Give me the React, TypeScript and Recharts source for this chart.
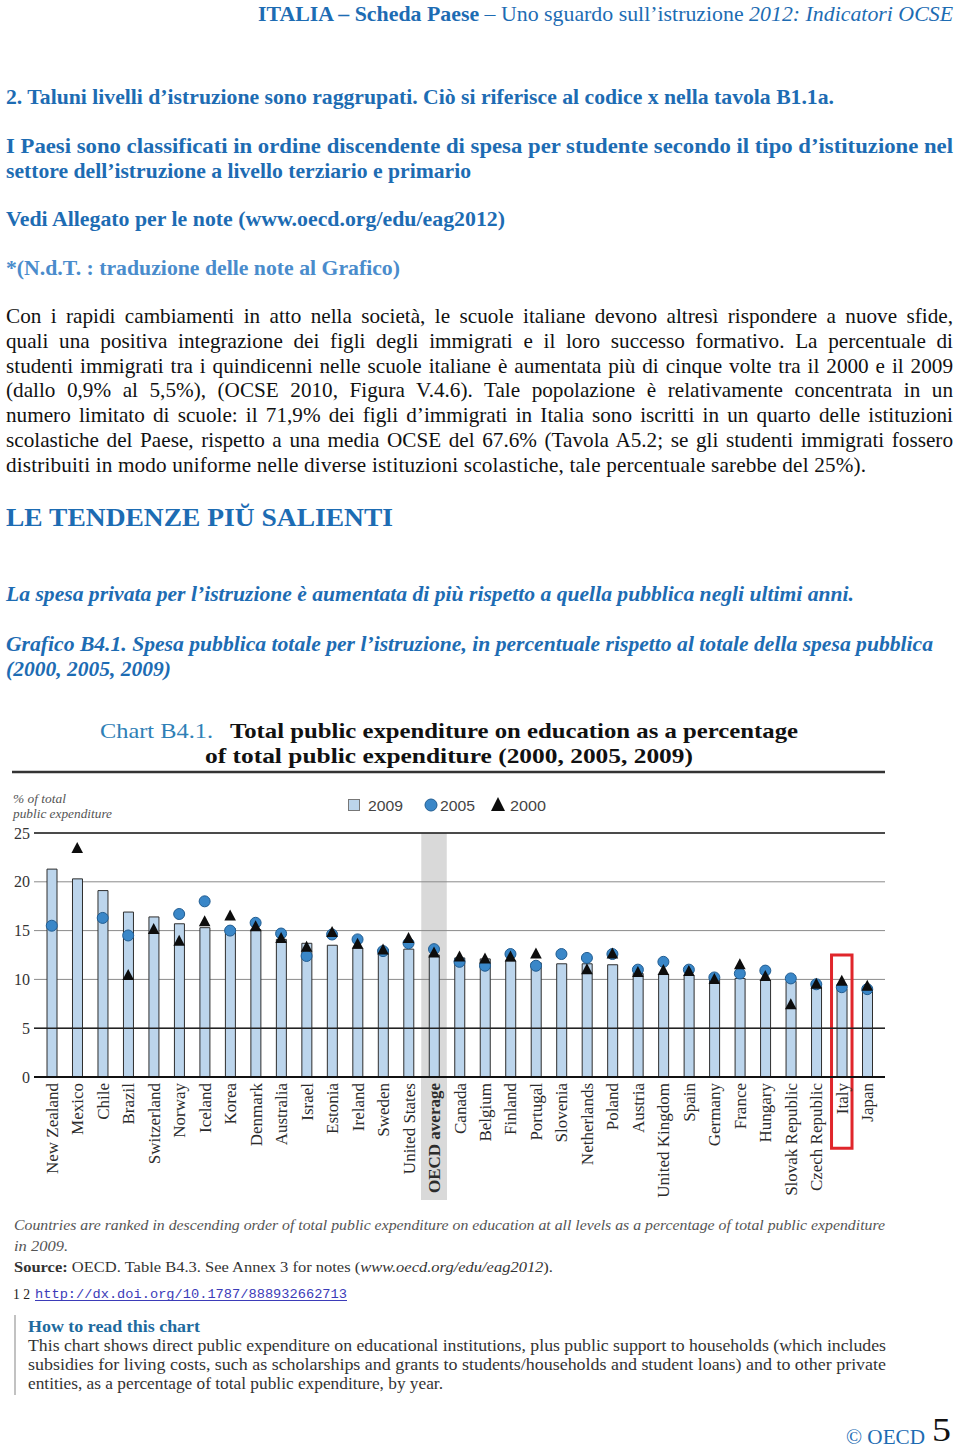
import React from 'react';
import {
  ComposedChart,
  Bar,
  Scatter,
  XAxis,
  YAxis,
  CartesianGrid,
  ReferenceLine,
  ReferenceArea,
} from 'recharts';

// ---------- data ----------
const countries = [
  'New Zealand', 'Mexico', 'Chile', 'Brazil', 'Switzerland', 'Norway', 'Iceland', 'Korea',
  'Denmark', 'Australia', 'Israel', 'Estonia', 'Ireland', 'Sweden', 'United States',
  'OECD average', 'Canada', 'Belgium', 'Finland', 'Portugal', 'Slovenia', 'Netherlands',
  'Poland', 'Austria', 'United Kingdom', 'Spain', 'Germany', 'France', 'Hungary',
  'Slovak Republic', 'Czech Republic', 'Italy', 'Japan',
];
const exp2009 = [
  21.3, 20.3, 19.1, 16.9, 16.4, 15.7, 15.3, 15.2,
  15.1, 14.1, 13.7, 13.5, 13.2, 13.1, 13.1,
  12.5, 12.2, 12.1, 11.9, 11.7, 11.6, 11.6,
  11.5, 10.6, 10.5, 10.4, 10.1, 10.1, 9.9,
  9.8, 9.3, 9.0, 8.9,
];
const exp2005: (number | null)[] = [
  15.5, null, 16.3, 14.5, null, 16.7, 18.0, 15.0,
  15.8, 14.7, 12.4, 14.6, 14.1, 12.9, 13.7,
  13.1, 11.8, 11.4, 12.6, 11.4, 12.6, 12.2,
  12.6, 11.0, 11.8, 11.0, 10.2, 10.6, 10.9,
  10.1, 9.5, 9.2, 9.0,
];
const exp2000: (number | null)[] = [
  null, 23.4, null, 10.4, 15.1, 13.9, 15.9, 16.5,
  15.4, 14.2, 13.3, 14.8, 13.6, 13.0, 14.2,
  12.7, 12.3, 12.1, 12.3, 12.6, null, 11.0,
  12.6, 10.7, 10.9, 10.8, 10.0, 11.5, 10.3,
  7.4, 9.5, 9.8, 9.3,
];
const yTicks = [0, 5, 10, 15, 20, 25];
const darkGridValues = [25, 5];
const legendLabels = ['2009', '2005', '2000'];
const averageCategory = 'OECD average';
const highlightedCountry = 'Italy';

const data = countries.map((c, i) => ({
  country: c,
  v2009: exp2009[i],
  v2005: exp2005[i],
  v2000: exp2000[i],
}));

// ---------- styles ----------
const SERIF = "'Liberation Serif', 'Times New Roman', serif";
const SANS = "'Liberation Sans', Arial, sans-serif";
const MONO = "'Liberation Mono', 'DejaVu Sans Mono', monospace";
const BLUE = '#1d6cb3';
const LIGHT_BLUE = '#4a8ccc';
const BAR_FILL = '#bcd5ec';
const DOT_FILL = '#3a87c8';

const CircleShape = (props: any) => {
  const { cx, cy, payload } = props;
  if (!payload || payload.v2005 == null || !isFinite(cy)) return <g />;
  return <circle cx={cx} cy={cy} r={5.5} fill={DOT_FILL} stroke="#215d92" strokeWidth={1} />;
};

const TriangleShape = (props: any) => {
  const { cx, cy, payload } = props;
  if (!payload || payload.v2000 == null || !isFinite(cy)) return <g />;
  const d = `M${cx},${cy - 6.5} L${cx + 5.8},${cy + 4.5} L${cx - 5.8},${cy + 4.5} Z`;
  return <path d={d} fill="#0d0d0d" />;
};

const XTick = (props: any) => {
  const { x, y, payload } = props;
  const label = payload.value as string;
  const isAvg = label === averageCategory;
  return (
    <g transform={`translate(${x},${y})`}>
      {isAvg && <rect x={-13} y={1} width={26} height={122} fill="#d9d9d9" />}
      <text
        transform="rotate(-90)"
        x={-6}
        y={6}
        textAnchor="end"
        fontFamily={SERIF}
        fontSize={17}
        fontWeight={isAvg ? 'bold' : 'normal'}
        fill="#2b2b2b"
      >
        {label}
      </text>
    </g>
  );
};

const RedBox = (props: any) => {
  const { x, y, width, height } = props;
  return (
    <rect x={x + 2.5} y={y} width={width - 5} height={height} fill="none" stroke="#e0262b" strokeWidth={3} />
  );
};

const ExpenditureChart = () => (
  <ComposedChart
    width={900}
    height={430}
    data={data}
    margin={{ top: 53, right: 15, bottom: 0, left: 0 }}
    barCategoryGap={0}
  >
    <ReferenceArea
      x1={averageCategory}
      x2={averageCategory}
      y1={0}
      y2={25}
      fill="#d9d9d9"
      fillOpacity={1}
      stroke="none"
      ifOverflow="visible"
      zIndex={-150}
    />
    <CartesianGrid vertical={false} stroke="#8a8a8a" strokeWidth={1} />
    {darkGridValues.map((v) => (
      <ReferenceLine key={v} y={v} stroke="#222" strokeWidth={1.5} />
    ))}
    <XAxis
      dataKey="country"
      interval={0}
      tick={<XTick />}
      tickLine={false}
      tickSize={0}
      tickMargin={0}
      height={133}
      padding={{ left: 5, right: 5 }}
      axisLine={{ stroke: '#111', strokeWidth: 2 }}
    />
    <YAxis
      width={34}
      domain={[0, 25]}
      ticks={yTicks}
      tickLine={false}
      axisLine={false}
      tickSize={4}
      tickMargin={0}
      tick={{ fontFamily: SERIF, fontSize: 16, fill: '#333' }}
    />
    <Bar dataKey="v2009" barSize={10} fill={BAR_FILL} stroke="#2e2e2e" strokeWidth={1} isAnimationActive={false} />
    <Scatter dataKey="v2005" shape={<CircleShape />} isAnimationActive={false} />
    <Scatter dataKey="v2000" shape={<TriangleShape />} isAnimationActive={false} />
    <ReferenceArea
      x1={highlightedCountry}
      x2={highlightedCountry}
      y1={-7.3}
      y2={12.5}
      ifOverflow="visible"
      shape={<RedBox />}
    />
  </ComposedChart>
);

type TxtProps = {
  x: number;
  y: number;
  w?: number;
  fs: number;
  fill?: string;
  weight?: string;
  italic?: boolean;
  family?: string;
  adjust?: 'spacing' | 'spacingAndGlyphs';
  children: React.ReactNode;
};
const Txt = ({ x, y, w, fs, fill = '#111', weight, italic, family = SERIF, adjust = 'spacingAndGlyphs', children }: TxtProps) => (
  <text
    x={x}
    y={y}
    fontSize={fs}
    fill={fill}
    fontWeight={weight}
    fontStyle={italic ? 'italic' : undefined}
    fontFamily={family}
    textLength={w}
    lengthAdjust={w ? adjust : undefined}
  >
    {children}
  </text>
);

// justified line: stretches word spaces so the line spans the given width
const JustLine = ({ x, y, w, fs, fill = '#111', text }: { x: number; y: number; w: number; fs: number; fill?: string; text: string }) => {
  const ref = React.useRef<SVGTextElement>(null);
  const [ws, setWs] = React.useState(0);
  React.useLayoutEffect(() => {
    const el = ref.current;
    if (!el) return;
    const natural = el.getComputedTextLength();
    const spaces = text.split(' ').length - 1;
    if (spaces > 0) setWs((w - natural) / spaces);
  }, [text, w]);
  return (
    <text ref={ref} x={x} y={y} fontSize={fs} fill={fill} fontFamily={SERIF} style={{ wordSpacing: `${ws}px` }}>
      {text}
    </text>
  );
};

const bodyLines = [
  'Con i rapidi cambiamenti in atto nella società, le scuole italiane devono altresì rispondere a nuove sfide,',
  'quali una positiva integrazione dei figli degli immigrati e il loro successo formativo. La percentuale di',
  'studenti immigrati tra i quindicenni nelle scuole italiane è aumentata più di cinque volte tra il 2000 e il 2009',
  '(dallo 0,9% al 5,5%), (OCSE 2010, Figura V.4.6). Tale popolazione è relativamente concentrata in un',
  'numero limitato di scuole: il 71,9% dei figli d’immigrati in Italia sono iscritti in un quarto delle istituzioni',
  'scolastiche del Paese, rispetto a una media OCSE del 67.6% (Tavola A5.2; se gli studenti immigrati fossero',
  'distribuiti in modo uniforme nelle diverse istituzioni scolastiche, tale percentuale sarebbe del 25%).',
];
const bodyWidths = [947, 947, 947, 947, 947, 947, 860];

const howLines = [
  'This chart shows direct public expenditure on educational institutions, plus public support to households (which includes',
  'subsidies for living costs, such as scholarships and grants to students/households and student loans) and to other private',
  'entities, as a percentage of total public expenditure, by year.',
];
const howWidths = [858, 858, 415];

export default function App() {
  return (
    <div style={{ position: 'absolute', left: 0, top: 0, width: 960, height: 1451, background: '#fff', overflow: 'hidden' }}>
      <svg width={960} height={1451} style={{ position: 'absolute', left: 0, top: 0 }}>
        {/* header */}
        <Txt x={258} y={21} w={695} fs={21} fill={BLUE}>
          <tspan fontWeight="bold">ITALIA – Scheda Paese</tspan>
          <tspan>{'  – Uno sguardo sull’istruzione '}</tspan>
          <tspan fontStyle="italic">2012: Indicatori OCSE</tspan>
        </Txt>

        <Txt x={6} y={104} w={828} fs={21} fill={BLUE} weight="bold">
          2. Taluni livelli d’istruzione sono raggrupati. Ciò si riferisce al codice x nella tavola B1.1a.
        </Txt>
        <Txt x={6} y={153} w={947} fs={21} fill={BLUE} weight="bold">
          I Paesi sono classificati in ordine discendente di spesa per studente secondo il tipo d’istituzione nel
        </Txt>
        <Txt x={6} y={178} w={465} fs={21} fill={BLUE} weight="bold">
          settore dell’istruzione a livello terziario e primario
        </Txt>
        <Txt x={6} y={226} w={499} fs={21} fill={BLUE} weight="bold">
          Vedi Allegato per le note (www.oecd.org/edu/eag2012)
        </Txt>
        <Txt x={6} y={275} w={394} fs={21} fill={LIGHT_BLUE} weight="bold">
          *(N.d.T. : traduzione delle note al Grafico)
        </Txt>

        {bodyLines.map((t, i) =>
          i < bodyLines.length - 1 ? (
            <JustLine key={i} x={6} y={323 + i * 24.8} w={bodyWidths[i]} fs={21.2} text={t} />
          ) : (
            <Txt key={i} x={6} y={323 + i * 24.8} w={bodyWidths[i]} fs={21.2} fill="#111" adjust="spacing">
              {t}
            </Txt>
          )
        )}

        <Txt x={6} y={526} w={387} fs={26} fill={BLUE} weight="bold">
          LE TENDENZE PIŬ SALIENTI
        </Txt>
        <Txt x={6} y={601} w={848} fs={21} fill={BLUE} weight="bold" italic>
          La spesa privata per l’istruzione è aumentata di più rispetto a quella pubblica negli ultimi anni.
        </Txt>
        <Txt x={6} y={651} w={927} fs={21} fill={BLUE} weight="bold" italic>
          Grafico B4.1. Spesa pubblica totale per l’istruzione, in percentuale rispetto al totale della spesa pubblica
        </Txt>
        <Txt x={6} y={676} w={165} fs={21} fill={BLUE} weight="bold" italic>
          (2000, 2005, 2009)
        </Txt>

        {/* chart title */}
        <Txt x={100} y={738} w={113} fs={21} fill="#2f80b6">
          Chart B4.1.
        </Txt>
        <Txt x={230} y={738} w={568} fs={21} fill="#111" weight="bold">
          Total public expenditure on education as a percentage
        </Txt>
        <Txt x={205} y={763} w={488} fs={21} fill="#111" weight="bold">
          of total public expenditure (2000, 2005, 2009)
        </Txt>
        <line x1={12} y1={772} x2={885} y2={772} stroke="#333" strokeWidth={2.5} />

        {/* y label */}
        <Txt x={13} y={803} w={53} fs={13} fill="#555" italic>
          % of total
        </Txt>
        <Txt x={13} y={818} w={99} fs={13} fill="#555" italic>
          public expenditure
        </Txt>

        {/* legend */}
        <rect x={348.5} y={799.5} width={11} height={11} fill={BAR_FILL} stroke="#777" strokeWidth={1} />
        <Txt x={368} y={811} w={35} fs={15} fill="#444" family={SANS}>{legendLabels[0]}</Txt>
        <circle cx={431} cy={805} r={6} fill={DOT_FILL} stroke="#215d92" strokeWidth={1} />
        <Txt x={440} y={811} w={35} fs={15} fill="#444" family={SANS}>{legendLabels[1]}</Txt>
        <path d="M498,797 L505,811 L491,811 Z" fill="#0d0d0d" />
        <Txt x={510} y={811} w={36} fs={15} fill="#444" family={SANS}>{legendLabels[2]}</Txt>

        {/* notes */}
        <Txt x={14} y={1230} w={871} fs={15} fill="#555" italic>
          Countries are ranked in descending order of total public expenditure on education at all levels as a percentage of total public expenditure
        </Txt>
        <Txt x={14} y={1251} w={54} fs={15} fill="#555" italic>
          in 2009.
        </Txt>
        <Txt x={14} y={1272} w={539} fs={15} fill="#333">
          <tspan fontWeight="bold">Source:</tspan>
          <tspan>{' OECD. Table B4.3. See Annex 3 for notes ('}</tspan>
          <tspan fontStyle="italic">www.oecd.org/edu/eag2012</tspan>
          <tspan>).</tspan>
        </Txt>
        <Txt x={13} y={1299} w={17} fs={14} fill="#222">
          1 2
        </Txt>
        <Txt x={35} y={1298} w={312} fs={12} fill="#3b3bb8" family={MONO}>
          http://dx.doi.org/10.1787/888932662713
        </Txt>
        <line x1={35} y1={1300.5} x2={347} y2={1300.5} stroke="#3b3bb8" strokeWidth={1} />

        <line x1={15} y1={1315} x2={15} y2={1395} stroke="#999" strokeWidth={1.2} />
        <Txt x={28} y={1332} w={172} fs={16} fill="#206a9e" weight="bold">
          How to read this chart
        </Txt>
        {howLines.map((t, i) => (
          <Txt key={i} x={28} y={1351 + i * 19} w={howWidths[i]} fs={16} fill="#333">
            {t}
          </Txt>
        ))}

        <Txt x={846} y={1444} w={79} fs={20} fill={BLUE}>
          © OECD
        </Txt>
        <Txt x={932} y={1441} w={19} fs={34} fill="#111">
          5
        </Txt>
      </svg>
      <div style={{ position: 'absolute', left: 0, top: 780, width: 900, height: 430 }}>
        <ExpenditureChart />
      </div>
    </div>
  );
}
